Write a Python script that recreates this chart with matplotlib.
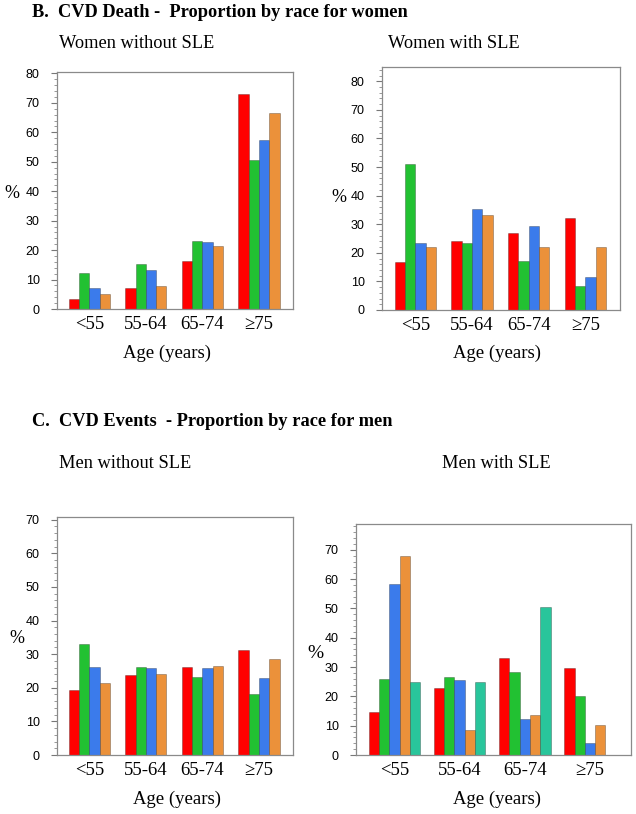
"""Recreate the CVD proportion-by-race bar panels (women / men, with and without SLE)."""

from __future__ import annotations

import matplotlib

matplotlib.use("Agg")
import matplotlib.pyplot as plt
import numpy as np
from matplotlib.ticker import MultipleLocator


FIG_W, FIG_H = 636, 814
SERIF = ["Liberation Serif", "DejaVu Serif"]
SANS = ["Liberation Sans", "DejaVu Sans"]

AGE_GROUPS = ["<55", "55-64", "65-74", "\u226575"]
SERIES_COLORS = ["#ff0000", "#22c132", "#3b7beb", "#eb913a", "#29c59b"]

# one list per race series, values are % per age group
WOMEN_NO_SLE = [
    [3.4, 7.3, 16.2, 73.0],
    [12.1, 15.2, 23.1, 50.6],
    [7.0, 13.2, 22.6, 57.5],
    [5.0, 7.8, 21.3, 66.7],
]
WOMEN_SLE = [
    [16.9, 24.1, 27.1, 32.2],
    [51.2, 23.6, 17.1, 8.5],
    [23.6, 35.3, 29.5, 11.6],
    [22.1, 33.4, 22.1, 22.1],
]
MEN_NO_SLE = [
    [19.4, 23.9, 26.3, 31.3],
    [33.1, 26.3, 23.3, 18.1],
    [26.3, 26.0, 26.0, 22.8],
    [21.4, 24.2, 26.6, 28.7],
]
MEN_SLE = [
    [14.8, 22.7, 33.2, 29.8],
    [25.8, 26.7, 28.2, 20.2],
    [58.3, 25.5, 12.3, 4.1],
    [67.9, 8.6, 13.6, 10.4],
    [24.9, 24.9, 50.6, np.nan],
]


def px(x: float, y: float) -> tuple[float, float]:
    """Pixel position (from top-left) to figure fraction."""
    return x / FIG_W, 1 - y / FIG_H


def add_axes(fig, left, top, right, bottom):
    x0, y0 = px(left, bottom)
    return fig.add_axes([x0, y0, (right - left) / FIG_W, (bottom - top) / FIG_H])


def draw_panel(ax, series, bar_width, ymax, ytop, xlim) -> None:
    """Grouped bars for one panel."""
    x = np.arange(len(AGE_GROUPS))
    n = len(series)
    for k, values in enumerate(series):
        offset = (k - (n - 1) / 2) * bar_width
        ax.bar(x + offset, values, width=bar_width, color=SERIES_COLORS[k],
               edgecolor=(0, 0, 0, 0.3), linewidth=0.6)

    ax.set_xlim(*xlim)
    ax.set_ylim(0, ytop)
    ax.set_xticks(x, AGE_GROUPS, fontfamily=SERIF, fontsize=13.5)
    yticks = np.arange(0, ymax + 1, 10)
    ax.set_yticks(yticks, [f"{v:d}" for v in yticks], fontfamily=SANS, fontsize=9)
    ax.yaxis.set_minor_locator(MultipleLocator(2))
    ax.tick_params(axis="x", length=0, pad=5)
    ax.tick_params(axis="y", which="major", length=4.5, width=0.8, color="#777777", pad=8)
    ax.tick_params(axis="y", which="minor", length=2, width=0.6, color="#888888")
    for spine in ax.spines.values():
        spine.set_color("#8a8a8a")
        spine.set_linewidth(0.9)


def main() -> None:
    plt.rcParams["font.family"] = SERIF
    fig = plt.figure(figsize=(FIG_W / 100, FIG_H / 100), dpi=100)

    ax1 = add_axes(fig, 57, 72, 293, 309)
    draw_panel(ax1, WOMEN_NO_SLE, 0.182, 80, 80.5, (-0.57, 3.6))
    ax2 = add_axes(fig, 382, 67, 620, 310)
    draw_panel(ax2, WOMEN_SLE, 0.182, 80, 85, (-0.59, 3.61))
    ax3 = add_axes(fig, 57, 517, 293, 755)
    draw_panel(ax3, MEN_NO_SLE, 0.182, 70, 70.8, (-0.57, 3.6))
    ax4 = add_axes(fig, 356, 524, 631, 755)
    draw_panel(ax4, MEN_SLE, 0.158, 70, 78.8, (-0.59, 3.63))

    fig.text(*px(32, 17), "B.  CVD Death -  Proportion by race for women",
             fontsize=13.2, fontweight="bold", va="baseline")
    fig.text(*px(32, 426), "C.  CVD Events  - Proportion by race for men",
             fontsize=13.2, fontweight="bold", va="baseline")

    fig.text(*px(59, 48), "Women without SLE", fontsize=13.2, va="baseline")
    fig.text(*px(388, 48), "Women with SLE", fontsize=13.2, va="baseline")
    fig.text(*px(59, 468), "Men without SLE", fontsize=13.2, va="baseline")
    fig.text(*px(442, 468), "Men with SLE", fontsize=13.2, va="baseline")

    for cx, cy in [(167, 358), (497, 358), (177, 804), (497, 804)]:
        fig.text(*px(cx, cy), "Age (years)", fontsize=13.5, ha="center", va="baseline")
    for lx, ly, size in [(4, 198, 13), (331, 202, 13), (9, 643, 13), (307, 658, 14)]:
        fig.text(*px(lx, ly), "%", fontsize=size, va="baseline")

    fig.savefig("out.png", dpi=100)
    plt.close(fig)


if __name__ == "__main__":
    main()
